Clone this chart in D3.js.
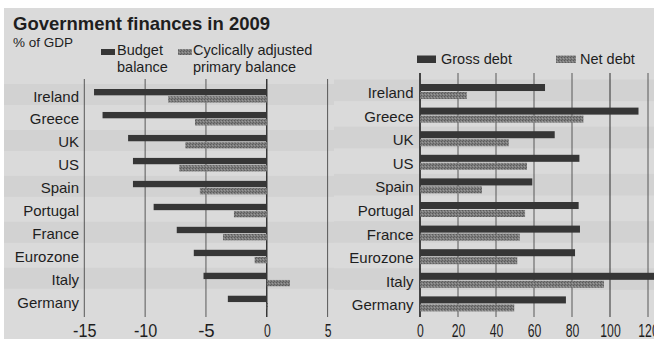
<!DOCTYPE html>
<html><head><meta charset="utf-8">
<script src="https://cdn.jsdelivr.net/npm/d3@7"></script>
<style>
html,body{margin:0;padding:0;background:#fff;}
svg{display:block;}
text{font-family:"Liberation Sans",Arial,sans-serif;fill:#1e1e1e;}
</style></head>
<body><svg id="c" width="654" height="339"></svg>
<script>
const countries = ["Ireland","Greece","UK","US","Spain","Portugal","France","Eurozone","Italy","Germany"];
const budgetBalance = [-14.2,-13.5,-11.4,-11.0,-11.0,-9.3,-7.4,-6.0,-5.2,-3.2];
const cyclicallyAdjustedPrimary = [-8.1,-5.9,-6.7,-7.2,-5.5,-2.7,-3.6,-1.0,1.9,0.1];
const grossDebt = [65.8,115,70.9,83.9,59.1,83.5,84.2,81.6,124,76.8];
const netDebt = [24.6,86,46.7,56.3,32.6,55.3,52.5,51.2,96.8,49.6];
const leftTicks = [-15,-10,-5,0,5];
const leftTickLabels = ["-15","-10","-5","0","5"];
const rightTicks = [0,20,40,60,80,100,120];
const rightTickLabels = ["0","20","40","60","80","100","120"];

const svg = d3.select("#c");
const W = 654, H = 339;
const dark = "#363636";

const defs = svg.append("defs");
const pat = defs.append("pattern").attr("id","hatch").attr("patternUnits","userSpaceOnUse")
  .attr("width",3).attr("height",3);
pat.append("rect").attr("width",3).attr("height",3).attr("fill","#7c7c7c");
pat.append("rect").attr("x",0).attr("y",0).attr("width",1).attr("height",1).attr("fill","#5a5a5a");
pat.append("rect").attr("x",2).attr("y",1).attr("width",1).attr("height",1).attr("fill","#9a9a9a");
pat.append("rect").attr("x",1).attr("y",2).attr("width",1).attr("height",1).attr("fill","#606060");

svg.append("rect").attr("x",4).attr("y",8).attr("width",W-4).attr("height",H-8).attr("fill","#dadada");

const xL = d3.scaleLinear().domain([-15,5]).range([84.3,327.6]);
const xR = d3.scaleLinear().domain([0,120]).range([420,648]);
const yL = d3.scaleBand().domain(countries).range([83,312.7]);
const yR = d3.scaleBand().domain(countries).range([78.5,314.5]);

countries.forEach((c,i)=>{
  if(i%2===0){
    svg.append("rect").attr("x",4).attr("width",330).attr("y",yL(c)+1).attr("height",yL.bandwidth()-2).attr("fill","#d2d2d2");
    svg.append("rect").attr("x",334).attr("width",320).attr("y",yR(c)+1).attr("height",yR.bandwidth()-2).attr("fill","#d2d2d2");
  }
});

const gL = svg.append("g");
gL.selectAll("line").data(leftTicks).join("line")
  .attr("x1",d=>xL(d)).attr("x2",d=>xL(d)).attr("y1",79).attr("y2",317)
  .attr("stroke",d=>d===0?"#1e1e1e":"#4a4a4a").attr("stroke-width",d=>d===0?1.3:0.9);
const gR = svg.append("g");
gR.selectAll("line").data(rightTicks).join("line")
  .attr("x1",d=>xR(d)).attr("x2",d=>xR(d)).attr("y1",73).attr("y2",317)
  .attr("stroke",d=>(d===0||d===100)?"#1e1e1e":"#4a4a4a").attr("stroke-width",d=>d===0?1.6:0.9);

const subL = d3.scaleBand().domain(["a","b"]).range([6,19.5]).paddingInner(0.12);
svg.append("g").selectAll("rect").data(countries).join("rect")
  .attr("x",(c,i)=>xL(Math.min(0,budgetBalance[i])))
  .attr("width",(c,i)=>Math.abs(xL(budgetBalance[i])-xL(0)))
  .attr("y",c=>yL(c)+subL("a")).attr("height",subL.bandwidth()).attr("fill",dark);
svg.append("g").selectAll("rect").data(countries).join("rect")
  .attr("x",(c,i)=>xL(Math.min(0,cyclicallyAdjustedPrimary[i])))
  .attr("width",(c,i)=>Math.max(1,Math.abs(xL(cyclicallyAdjustedPrimary[i])-xL(0))))
  .attr("y",c=>yL(c)+subL("b")).attr("height",subL.bandwidth()).attr("fill","url(#hatch)");

const subR = d3.scaleBand().domain(["a","b"]).range([5.5,20.5]).paddingInner(0.12);
svg.append("g").selectAll("rect").data(countries).join("rect")
  .attr("x",xR(0)).attr("width",(c,i)=>xR(grossDebt[i])-xR(0))
  .attr("y",c=>yR(c)+subR("a")).attr("height",subR.bandwidth()).attr("fill",dark);
svg.append("g").selectAll("rect").data(countries).join("rect")
  .attr("x",xR(0)).attr("width",(c,i)=>xR(netDebt[i])-xR(0))
  .attr("y",c=>yR(c)+subR("b")).attr("height",subR.bandwidth()).attr("fill","url(#hatch)");

svg.append("g").selectAll("text").data(countries).join("text")
  .attr("x",79).attr("y",c=>yL(c)+18.5).attr("text-anchor","end")
  .attr("font-size",15).text(c=>c);
svg.append("g").selectAll("text").data(countries).join("text")
  .attr("x",413.5).attr("y",c=>yR(c)+19.5).attr("text-anchor","end")
  .attr("font-size",15).text(c=>c);

const axL = svg.append("g").attr("transform","translate(0,336.5)")
  .call(d3.axisBottom(xL).tickValues(leftTicks).tickSize(0).tickFormat((d,i)=>leftTickLabels[i]));
const axR = svg.append("g").attr("transform","translate(0,336.5)")
  .call(d3.axisBottom(xR).tickValues(rightTicks).tickSize(0).tickFormat((d,i)=>rightTickLabels[i]));
[axL,axR].forEach(a=>{
  a.select(".domain").remove();
  a.selectAll("text").attr("y",0).attr("dy",0)
   .attr("font-family","'Liberation Sans',Arial,sans-serif")
   .attr("font-size",19).attr("fill","#333")
   .attr("lengthAdjust","spacingAndGlyphs")
   .attr("textLength",function(){ const t=this.textContent; return t.length*6.8 + (t[0]==="-"?3:0); });
});

svg.append("text").attr("x",13).attr("y",29.5).attr("font-size",18.5).attr("font-weight","bold").text("Government finances in 2009");
svg.append("text").attr("x",13).attr("y",47).attr("font-size",13.5).text("% of GDP");

const leg = svg.append("g");
leg.append("rect").attr("x",101).attr("y",49).attr("width",14).attr("height",6).attr("fill",dark);
leg.append("text").attr("x",117).attr("y",55).attr("font-size",14.5).text("Budget");
leg.append("text").attr("x",117).attr("y",71.5).attr("font-size",14.5).text("balance");
leg.append("rect").attr("x",178).attr("y",49).attr("width",14).attr("height",6).attr("fill","url(#hatch)");
leg.append("text").attr("x",193).attr("y",55).attr("font-size",14.5).text("Cyclically adjusted");
leg.append("text").attr("x",193).attr("y",71.5).attr("font-size",14.5).text("primary balance");
leg.append("rect").attr("x",417).attr("y",55.5).attr("width",19).attr("height",7.5).attr("fill",dark);
leg.append("text").attr("x",441).attr("y",63.5).attr("font-size",14.5).text("Gross debt");
leg.append("rect").attr("x",556).attr("y",55.5).attr("width",20).attr("height",7.5).attr("fill","url(#hatch)");
leg.append("text").attr("x",580).attr("y",63.5).attr("font-size",14.5).text("Net debt");
</script></body></html>
